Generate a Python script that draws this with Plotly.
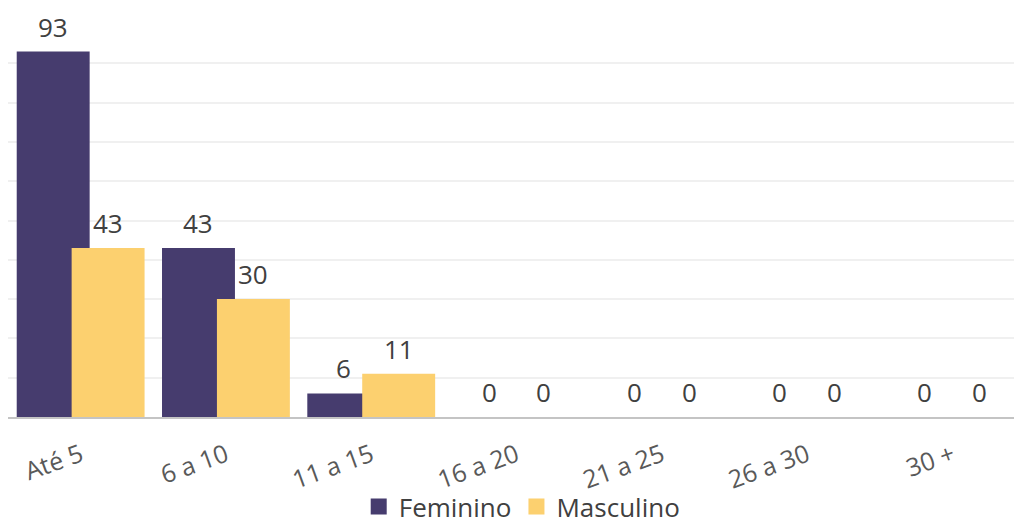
import plotly.graph_objects as go

categories = ["Até 5", "6 a 10", "11 a 15", "16 a 20", "21 a 25", "26 a 30", "30 +"]
feminino = [93, 43, 6, 0, 0, 0, 0]
masculino = [43, 30, 11, 0, 0, 0, 0]

FONT = "'Open Sans', sans-serif"
PURPLE = "#463C6E"
YELLOW = "#FCD06F"
BAR_W = 0.502
OFFSETS = {"Feminino": -0.44, "Masculino": -0.062}

fig = go.Figure()
for name, vals, col in [("Feminino", feminino, PURPLE), ("Masculino", masculino, YELLOW)]:
    fig.add_trace(go.Bar(
        name=name, x=categories, y=vals, marker=dict(color=col, line=dict(width=0)),
        width=BAR_W, offset=OFFSETS[name], showlegend=False,
    ))
# legend entries with square symbols
for name, col in [("Feminino", PURPLE), ("Masculino", YELLOW)]:
    fig.add_trace(go.Scatter(
        name=name, x=[None], y=[None], mode="markers",
        marker=dict(symbol="square", size=17, color=col), showlegend=True,
    ))

annotations = []
for name, vals in [("Feminino", feminino), ("Masculino", masculino)]:
    for i, v in enumerate(vals):
        annotations.append(dict(
            x=i + OFFSETS[name] + BAR_W / 2, y=v, xref="x", yref="y",
            text=str(v), showarrow=False, yanchor="bottom", yshift=5,
            font=dict(family=FONT, size=26, color="#404040"),
        ))

fig.update_layout(
    width=1014, height=530,
    margin=dict(l=8, r=0, t=24, b=113),
    paper_bgcolor="white", plot_bgcolor="white",
    barmode="overlay",
    showlegend=True,
    legend=dict(orientation="h", x=0.515, xanchor="center", xref="container",
                y=0.0, yanchor="bottom", yref="container",
                bgcolor="rgba(0,0,0,0)",
                font=dict(family=FONT, size=26, color="#404040"), traceorder="normal",
                itemwidth=30, tracegroupgap=0),
    annotations=annotations,
    xaxis=dict(
        type="category", range=[-0.5, 6.424], tickangle=-20, automargin=False,
        tickfont=dict(family=FONT, size=25, color="#595959"),
        showgrid=False, showline=True, linecolor="#C4C4C4", linewidth=2,
        ticks="", ticklabelstandoff=12,
    ),
    yaxis=dict(
        range=[0, 100], dtick=10, showticklabels=False, showgrid=True, automargin=False,
        gridcolor="#F0F0F0", gridwidth=2, zeroline=False, showline=False, ticks="",
    ),
)

fig.write_html("out.html", config={"displayModeBar": False},
               post_script="document.body.style.margin='0px';")
